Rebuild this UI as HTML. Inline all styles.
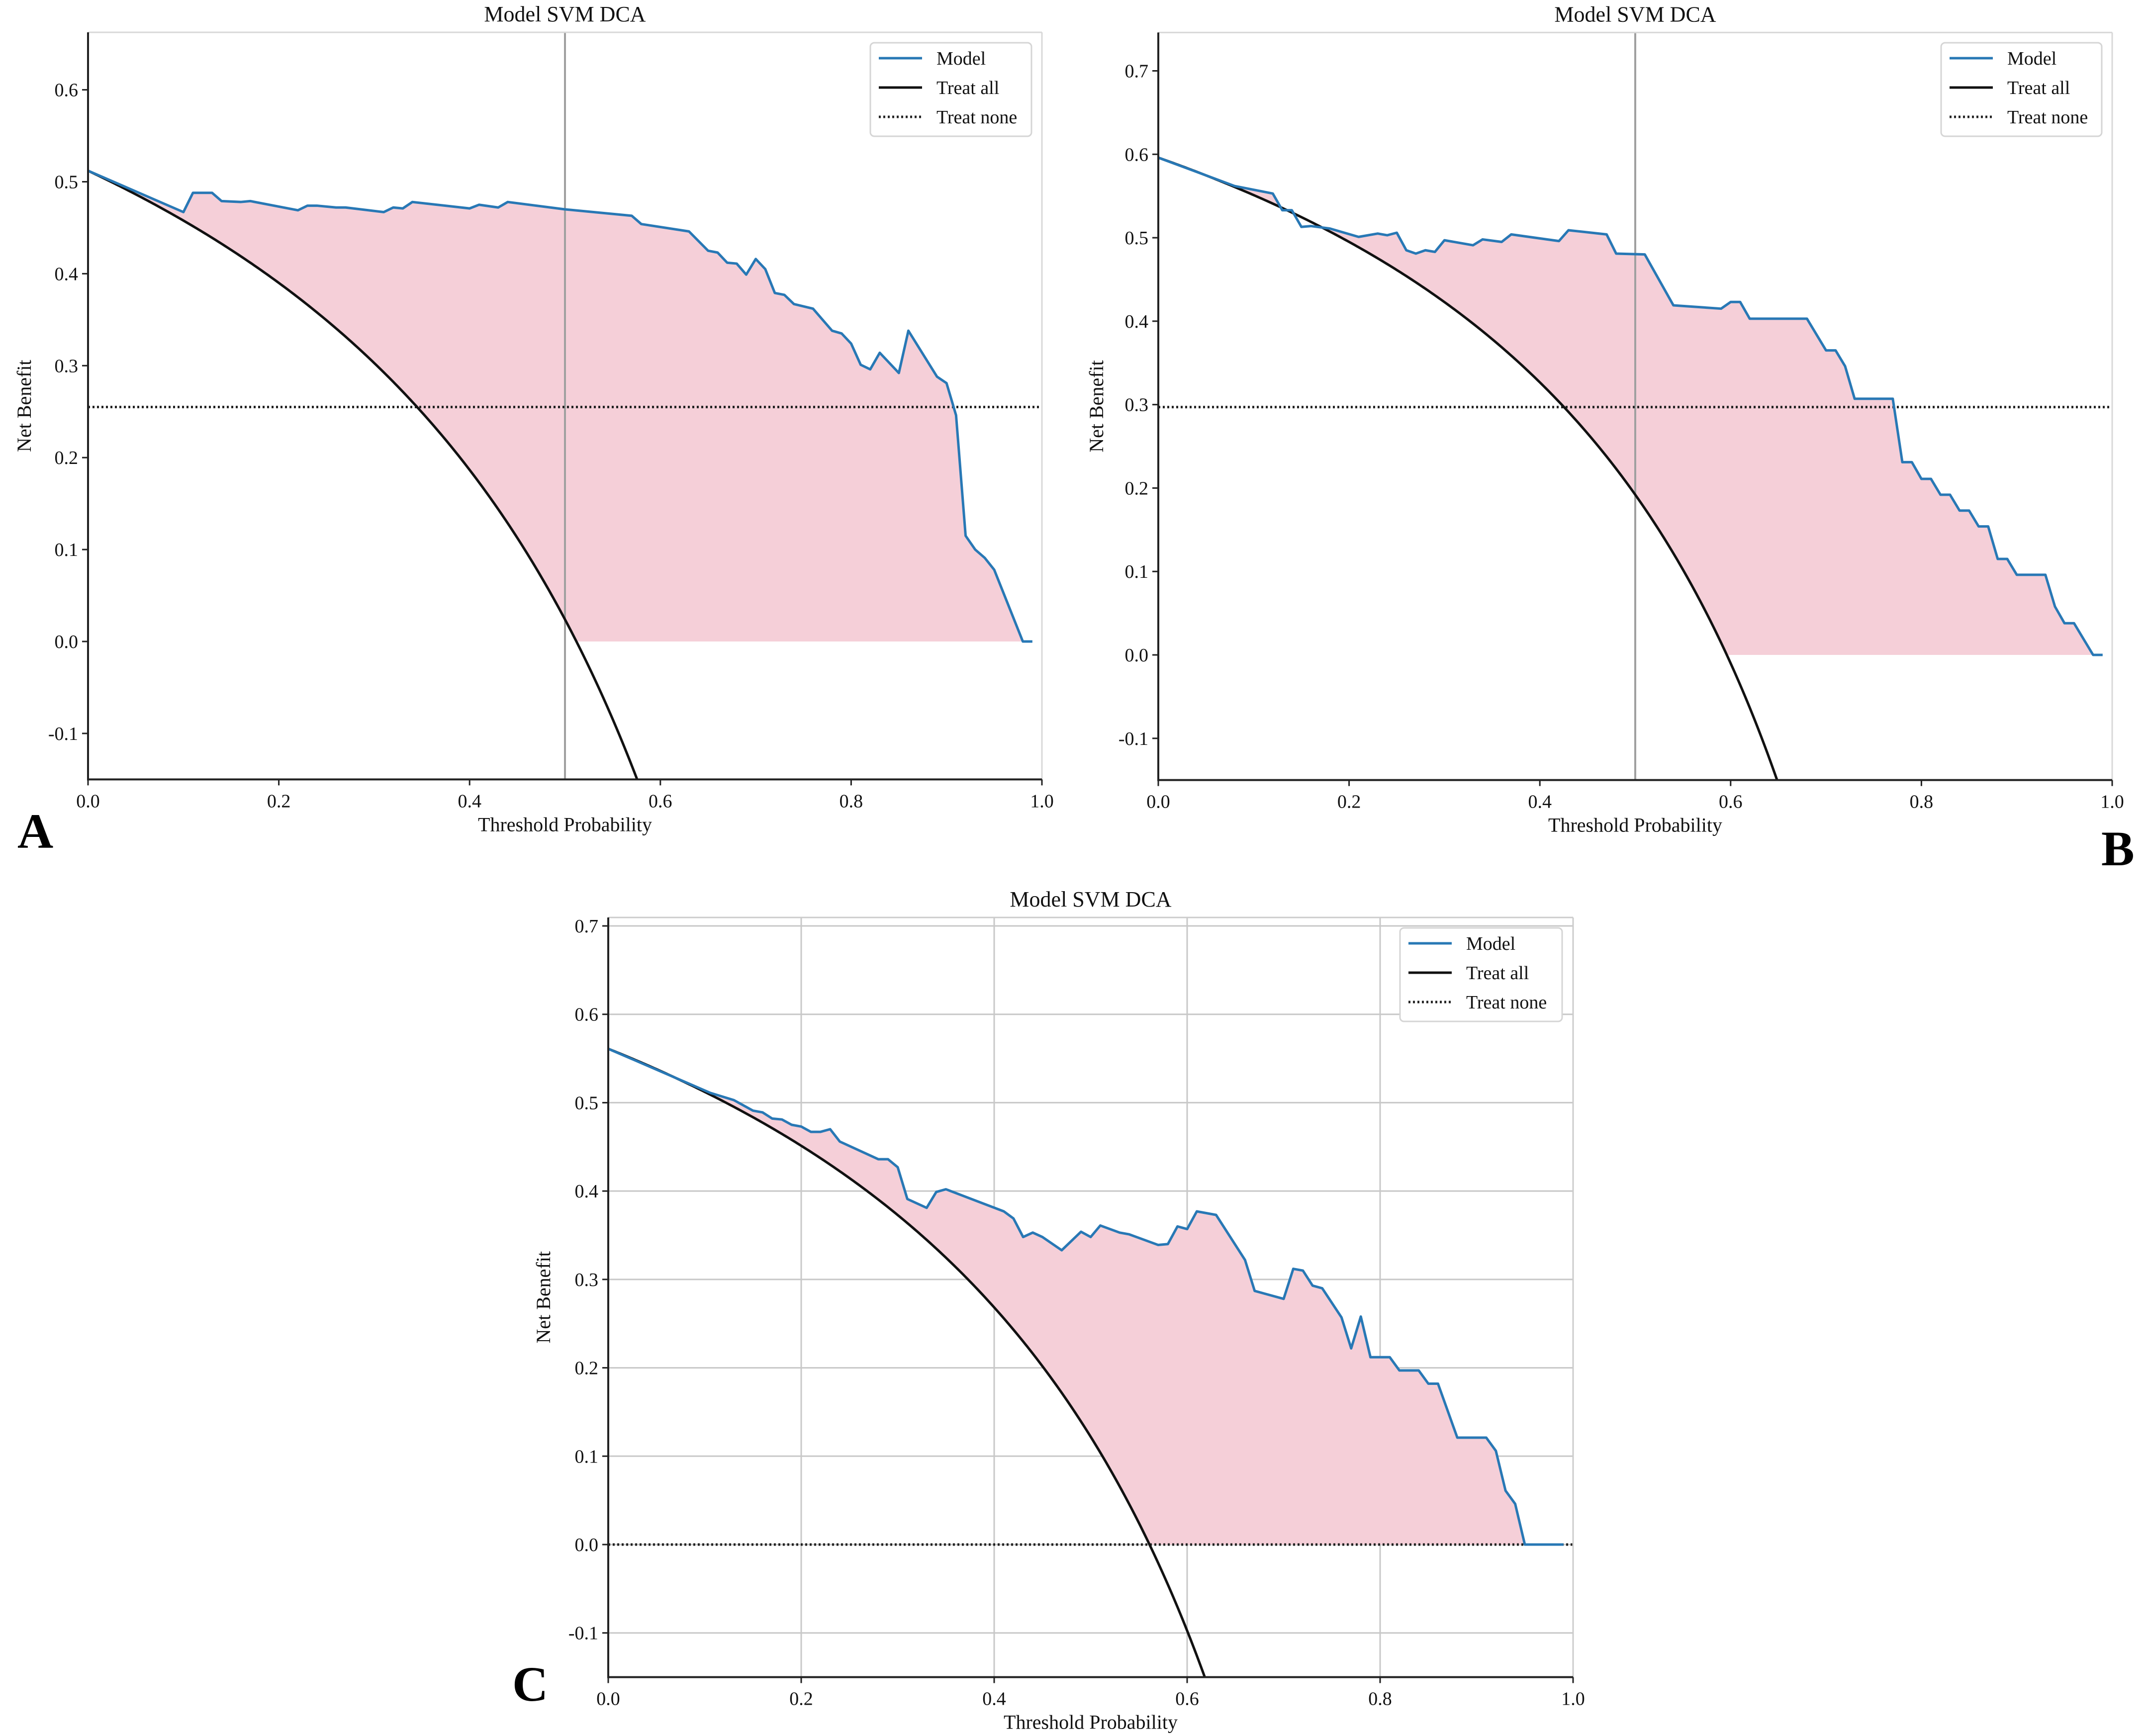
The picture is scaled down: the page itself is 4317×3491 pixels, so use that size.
<!DOCTYPE html>
<html><head><meta charset="utf-8"><style>
html,body{margin:0;padding:0;background:#fff;}
svg{display:block;font-family:"Liberation Serif",serif;}
</style></head><body>
<svg id="fig" width="4317" height="3491" viewBox="0 0 4317 3491" xmlns="http://www.w3.org/2000/svg"></svg>
<script>
// ---- data ----
const xTicks = [0, 0.2, 0.4, 0.6, 0.8, 1.0];
const yTicksA = [-0.1, 0, 0.1, 0.2, 0.3, 0.4, 0.5, 0.6];
const yTicksBC = [-0.1, 0, 0.1, 0.2, 0.3, 0.4, 0.5, 0.6, 0.7];
const prevA = 0.512, prevB = 0.596, prevC = 0.561;
const noneA = 0.255, noneB = 0.297, noneC = 0;
const thrA = [0,0.10,0.11,0.13,0.14,0.16,0.17,0.22,0.23,0.24,0.26,0.27,0.31,0.32,0.33,0.34,0.40,0.41,0.43,0.44,0.50,0.57,0.58,0.63,0.65,0.66,0.67,0.68,0.69,0.70,0.71,0.72,0.73,0.74,0.76,0.78,0.79,0.80,0.81,0.82,0.83,0.85,0.86,0.89,0.90,0.91,0.92,0.93,0.94,0.95,0.98,0.99];
const nbA = [0.512,0.467,0.488,0.488,0.479,0.478,0.479,0.469,0.474,0.474,0.472,0.472,0.467,0.472,0.471,0.478,0.471,0.475,0.472,0.478,0.470,0.463,0.454,0.446,0.425,0.423,0.412,0.411,0.399,0.416,0.405,0.379,0.377,0.367,0.362,0.338,0.335,0.324,0.301,0.296,0.314,0.292,0.338,0.288,0.281,0.246,0.115,0.100,0.091,0.078,0,0];
const thrB = [0,0.08,0.12,0.13,0.14,0.15,0.16,0.18,0.21,0.23,0.24,0.25,0.26,0.27,0.28,0.29,0.30,0.33,0.34,0.36,0.37,0.42,0.43,0.47,0.48,0.51,0.54,0.59,0.60,0.61,0.62,0.68,0.70,0.71,0.72,0.73,0.77,0.78,0.79,0.80,0.81,0.82,0.83,0.84,0.85,0.86,0.87,0.88,0.89,0.90,0.93,0.94,0.95,0.96,0.98,0.99];
const nbB = [0.596,0.562,0.553,0.533,0.533,0.513,0.514,0.511,0.501,0.505,0.503,0.506,0.485,0.481,0.485,0.483,0.497,0.491,0.498,0.495,0.504,0.496,0.509,0.504,0.481,0.480,0.419,0.415,0.423,0.423,0.403,0.403,0.365,0.365,0.346,0.307,0.307,0.231,0.231,0.211,0.211,0.192,0.192,0.173,0.173,0.154,0.154,0.115,0.115,0.096,0.096,0.058,0.038,0.038,0,0];
const thrC = [0,0.106,0.13,0.15,0.16,0.17,0.18,0.19,0.20,0.21,0.22,0.23,0.24,0.28,0.29,0.30,0.31,0.33,0.34,0.35,0.41,0.42,0.43,0.44,0.45,0.47,0.49,0.50,0.51,0.53,0.54,0.57,0.58,0.59,0.60,0.61,0.63,0.66,0.67,0.70,0.71,0.72,0.73,0.74,0.76,0.77,0.78,0.79,0.81,0.82,0.84,0.85,0.86,0.88,0.91,0.92,0.93,0.94,0.95,0.99];
const nbC = [0.561,0.511,0.503,0.491,0.489,0.482,0.481,0.475,0.473,0.467,0.467,0.470,0.456,0.436,0.436,0.427,0.391,0.381,0.399,0.402,0.377,0.369,0.348,0.353,0.348,0.333,0.354,0.348,0.361,0.353,0.351,0.339,0.340,0.360,0.357,0.377,0.373,0.322,0.287,0.278,0.312,0.310,0.293,0.290,0.257,0.222,0.258,0.212,0.212,0.197,0.197,0.182,0.182,0.121,0.121,0.106,0.061,0.046,0,0];

const NS = "http://www.w3.org/2000/svg";
const svg = document.getElementById('fig');
function mk(tag, attrs, parent){const e=document.createElementNS(NS,tag);for(const k in attrs)e.setAttribute(k,attrs[k]);(parent||svg).appendChild(e);return e;}

function panel(cfg){
  const g = mk('g',{});
  
  
  const X = v => cfg.x0 + (cfg.x1-cfg.x0)*v;
  const Y = v => cfg.y0 - (v)*(cfg.y0-cfg.yTop)/cfg.ymax;
  const yb = Y(-0.15);
  const top = Y(cfg.ymaxPlot);
  if(cfg.grid){
    xTicks.forEach(t=>{const l=mk('line',{x1:X(t),x2:X(t),y1:top,y2:yb,stroke:'#c8c8c8','stroke-width':3},g);
      
      });
    cfg.yTicks.forEach(t=>{const l=mk('line',{x1:cfg.x0,x2:cfg.x1,y1:Y(t),y2:Y(t),stroke:'#c8c8c8','stroke-width':3},g);
      
      });
  }
  const ta = t => cfg.prev - (1-cfg.prev)*t/(1-t);
  const interp = t => {const a=cfg.thr,b=cfg.nb; if(t<=a[0])return b[0]; for(let i=1;i<a.length;i++){if(t<=a[i]){const f=(t-a[i-1])/(a[i]-a[i-1]);return b[i-1]+f*(b[i]-b[i-1]);}} return null;};
  const tmax = cfg.thr[cfg.thr.length-1];
  let topPts=[], botPts=[];
  const ts=new Set(cfg.thr); for(let t=0;t<=tmax;t+=0.002) ts.add(+t.toFixed(4));
  const arr=[...ts].sort((a,b)=>a-b);
  arr.forEach(t=>{const m=interp(t);const lo=Math.min(m,Math.max(ta(t),0));topPts.push(X(t)+','+Y(m));botPts.push(X(t)+','+Y(lo));});
  const fill=mk('polygon',{points:topPts.concat(botPts.reverse()).join(' '),fill:'#f5cfd8',stroke:'none'},g);
  
  
  if(cfg.vline){const v=mk('line',{x1:X(0.5),x2:X(0.5),y1:top,y2:yb,stroke:'#a0a0a0','stroke-width':4},g);
    
    }
  const tn=mk('line',{x1:cfg.x0,x2:cfg.x1,y1:Y(cfg.none),y2:Y(cfg.none),stroke:'#222','stroke-width':5,'stroke-dasharray':'4 5'},g);
  
  
  let p=[]; for(let t=0;t<0.9;t+=0.002){const v=ta(t); if(v<-0.15){const t2=(cfg.prev+0.15)/(cfg.prev+0.15+1-cfg.prev); p.push(X(t2)+','+Y(-0.15)); break;} p.push(X(t)+','+Y(v));}
  const tal=mk('polyline',{points:p.join(' '),fill:'none',stroke:'#111','stroke-width':5},g);
  
  
  const ml=mk('polyline',{points:cfg.thr.map((t,i)=>X(t)+','+Y(cfg.nb[i])).join(' '),fill:'none',stroke:'#2878b5','stroke-width':5,'stroke-linejoin':'round'},g);
  
  
  const sc = cfg.grid ? '#cccccc' : '#d8d8d8';
  mk('line',{x1:cfg.x0,x2:cfg.x1,y1:top,y2:top,stroke:sc,'stroke-width':3},g);
  mk('line',{x1:cfg.x1,x2:cfg.x1,y1:top,y2:yb,stroke:sc,'stroke-width':3},g);
  const ax=mk('line',{x1:cfg.x0,x2:cfg.x0,y1:top,y2:yb+2,stroke:'#222','stroke-width':4},g);
  
  
  const bx=mk('line',{x1:cfg.x0-2,x2:cfg.x1,y1:yb,y2:yb,stroke:'#222','stroke-width':4},g);
  
  
  xTicks.forEach(t=>{mk('line',{x1:X(t),x2:X(t),y1:yb,y2:yb+12,stroke:'#222','stroke-width':3},g);
    const tx=mk('text',{x:X(t),y:yb+56,'font-size':38,'text-anchor':'middle',fill:'#111'},g);tx.textContent=t.toFixed(1);
    
    });
  cfg.yTicks.forEach(t=>{mk('line',{x1:cfg.x0-12,x2:cfg.x0,y1:Y(t),y2:Y(t),stroke:'#222','stroke-width':3},g);
    const tx=mk('text',{x:cfg.x0-20,y:Y(t)+13,'font-size':38,'text-anchor':'end',fill:'#111'},g);tx.textContent=t.toFixed(1);
    
    });
  const ti=mk('text',{x:(cfg.x0+cfg.x1)/2,y:top-22,'font-size':44,'text-anchor':'middle',fill:'#111'},g);ti.textContent='Model SVM DCA';
  
  
  const xl=mk('text',{x:(cfg.x0+cfg.x1)/2,y:yb+104,'font-size':40,'text-anchor':'middle',fill:'#111'},g);xl.textContent='Threshold Probability';
  
  
  const ym=(top+yb)/2;
  const yl=mk('text',{x:cfg.ylx,y:ym,'font-size':40,'text-anchor':'middle',fill:'#111',transform:`rotate(-90 ${cfg.ylx} ${ym})`},g);yl.textContent='Net Benefit';
  
  
  const lg=mk('g',{},g);
  
  
  mk('rect',{x:cfg.lx,y:cfg.ly,width:cfg.lw,height:188,rx:8,fill:'#fff',stroke:'#d5d5d5','stroke-width':3},lg);
  const ent=[['Model','#2878b5',null],['Treat all','#111',null],['Treat none','#222','4 5']];
  ent.forEach((e,i)=>{const yy=cfg.ly+31+i*59;
    const ln=mk('line',{x1:cfg.lx+17,x2:cfg.lx+104,y1:yy,y2:yy,stroke:e[1],'stroke-width':5},lg);
    if(e[2])ln.setAttribute('stroke-dasharray',e[2]);
    const tx=mk('text',{x:cfg.lx+133,y:yy+13,'font-size':38,fill:'#111'},lg);tx.textContent=e[0];
    
    });
  const pl=mk('text',{x:cfg.px,y:cfg.py,'font-size':100,'font-weight':'bold',fill:'#000'},g);pl.textContent=cfg.letter;
  
  
}

panel({name:'panel-a',x0:177,x1:2095,y0:1290,yTop:180.6,ymax:0.6,ymaxPlot:0.6625,yTicks:yTicksA,prev:prevA,none:noneA,thr:thrA,nb:nbA,grid:false,vline:true,ylx:62,lx:1750,ly:86,lw:324,letter:'A',px:35,py:1705});
panel({name:'panel-b',x0:2329,x1:4247,y0:1317,yTop:142.5,ymax:0.7,ymaxPlot:0.746,yTicks:yTicksBC,prev:prevB,none:noneB,thr:thrB,nb:nbB,grid:false,vline:true,ylx:2218,lx:3903,ly:86,lw:323,letter:'B',px:4225,py:1740});
panel({name:'panel-c',x0:1223,x1:3163,y0:3106,yTop:1862,ymax:0.7,ymaxPlot:0.7096,yTicks:yTicksBC,prev:prevC,none:noneC,thr:thrC,nb:nbC,grid:true,vline:false,ylx:1106,lx:2815,ly:1866,lw:326,letter:'C',px:1030,py:3420});
</script>
</body></html>
